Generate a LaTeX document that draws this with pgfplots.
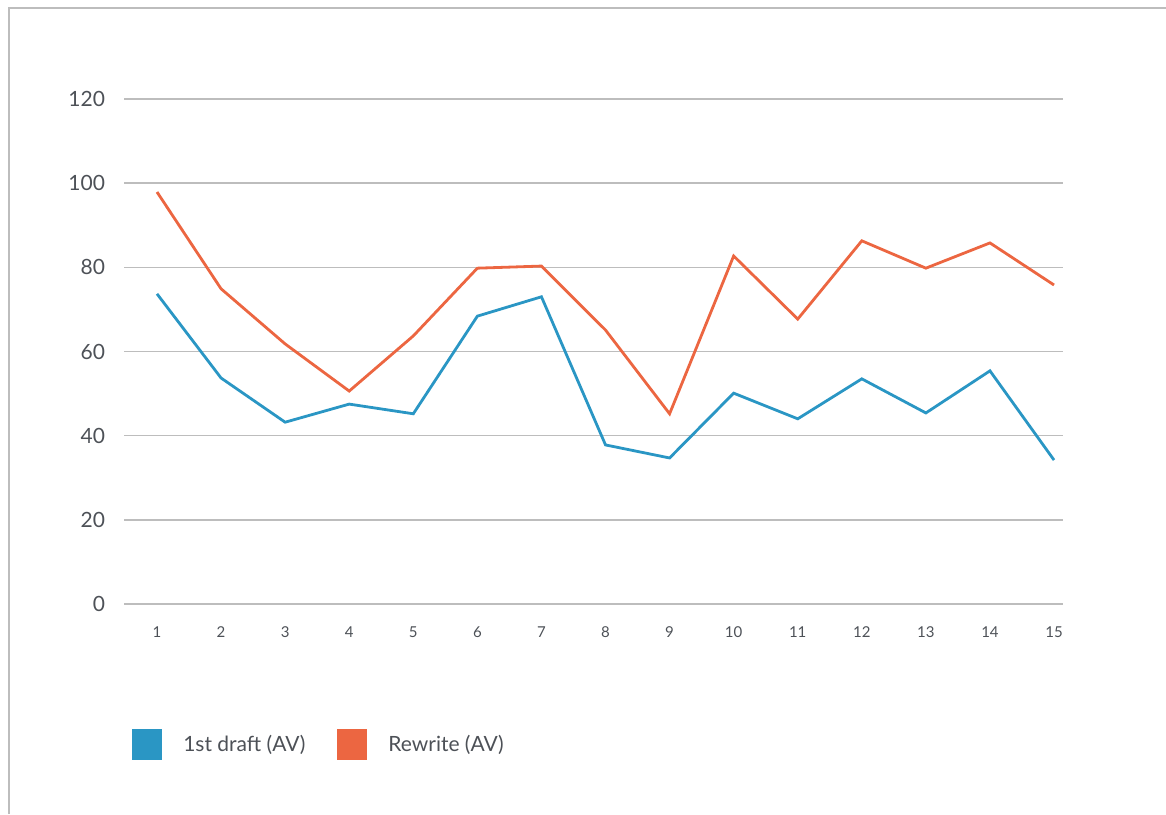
\documentclass[border=0pt]{standalone}
\usepackage{pgfplots}
\pgfplotsset{compat=1.18}
\usepackage{fontspec}
\setmainfont{Lato}
\definecolor{cblue}{HTML}{2A96C4}
\definecolor{corange}{HTML}{EC6641}
\definecolor{ctext}{HTML}{4D5157}
\definecolor{cgrid}{HTML}{BDBDBD}
\begin{document}
\begin{tikzpicture}
\useasboundingbox (0,0) rectangle (583pt,407pt);
\draw[cgrid, line width=0.6pt] (4.5pt,0) -- (4.5pt,403pt) -- (583pt,403pt);
\begin{axis}[
  at={(62pt,105pt)}, anchor=south west,
  scale only axis, width=469.5pt, height=252.5pt,
  xmin=0.485, xmax=15.14, ymin=0, ymax=120,
  axis line style={draw=none},
  xtick={1,...,15}, ytick={0,20,...,120},
  major tick length=0pt,
  ymajorgrids, grid style={cgrid, line width=0.7pt},
  /pgf/number format/assume math mode=true,
  yticklabel style={font=\fontsize{10.5}{12}\selectfont, text=ctext, xshift=-6pt},
  xticklabel style={font=\fontsize{7.5}{9}\selectfont, text=ctext, yshift=-8pt},
  legend columns=2,
  legend style={draw=none, fill=none, at={(0.002,-0.279)}, anchor=west,
    font=\fontsize{10.5}{12}\selectfont, text=ctext,
    /tikz/every odd column/.append style={column sep=8.5pt},
    /tikz/every even column/.append style={column sep=14pt}},
  legend cell align=left,
  legend image code/.code={\fill[#1, draw=none] (0pt,-7.75pt) rectangle (15pt,7.75pt);},
]
\addplot[cblue, line width=1.4pt] coordinates {
(1,73.7)(2,53.7)(3,43.2)(4,47.5)(5,45.2)(6,68.4)(7,73.0)(8,37.8)(9,34.7)(10,50.1)(11,44.0)(12,53.5)(13,45.4)(14,55.4)(15,34.2)};
\addlegendentry{1st draft (AV)}
\addplot[corange, line width=1.4pt] coordinates {
(1,97.9)(2,74.9)(3,61.8)(4,50.6)(5,63.7)(6,79.8)(7,80.3)(8,65.1)(9,45.2)(10,82.7)(11,67.7)(12,86.3)(13,79.8)(14,85.8)(15,75.8)};
\addlegendentry{Rewrite (AV)}
\end{axis}
\end{tikzpicture}
\end{document}
